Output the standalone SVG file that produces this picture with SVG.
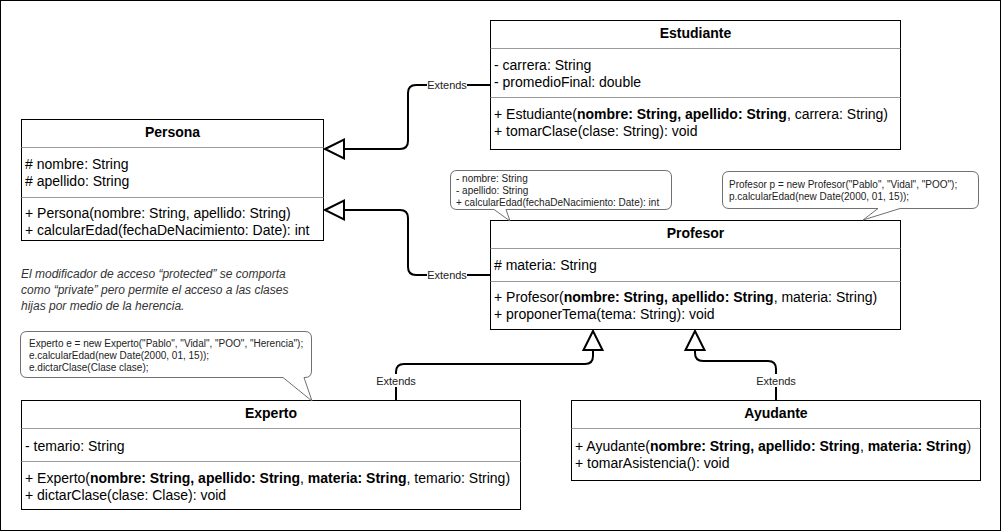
<svg xmlns="http://www.w3.org/2000/svg" width="1001" height="531" viewBox="0 0 1001 531">
<style>
.box{fill:#fff;stroke:#000;stroke-width:1}
.sep{stroke:#9a9a9a;stroke-width:1;fill:none}
.t{font-family:"Liberation Sans",Arial,sans-serif;font-size:14px;fill:#000}
.h{font-weight:bold;text-anchor:middle}
.b{font-weight:bold}
.bub{fill:#fff;stroke:#707070;stroke-width:1}
.bt{font-family:"Liberation Sans",Arial,sans-serif;font-size:10px;fill:#222}
.edge{fill:none;stroke:#000;stroke-width:2}
.arr{fill:#fff;stroke:#000;stroke-width:2;stroke-linejoin:miter}
.lbl{font-family:"Liberation Sans",Arial,sans-serif;font-size:11px;fill:#222;text-anchor:middle}
.lblbg{fill:#fff}
.note{font-family:"Liberation Sans",Arial,sans-serif;font-size:12px;font-style:italic;fill:#333}
</style>
<rect x="0.5" y="0.5" width="1000" height="530" fill="#fff" stroke="#000"/>

<g id="connectors">
  <path class="edge" d="M491,85 H416 Q408,85 408,93 V141 Q408,149 400,149 H344"/>
  <path class="arr" d="M325,149 L344,139.5 L344,158.5 Z"/>
  <rect class="lblbg" x="427" y="78" width="40" height="13"/>
  <text class="lbl" x="447" y="89">Extends</text>

  <path class="edge" d="M491,275 H416 Q408,275 408,267 V218 Q408,210 400,210 H344"/>
  <path class="arr" d="M325,210 L344,200.5 L344,219.5 Z"/>
  <rect class="lblbg" x="427" y="268" width="40" height="13"/>
  <text class="lbl" x="447" y="279">Extends</text>

  <path class="edge" d="M396,400 V372 Q396,364 404,364 H585 Q593,364 593,356 V350"/>
  <path class="arr" d="M593,331 L583.5,350 L602.5,350 Z"/>
  <rect class="lblbg" x="376" y="374" width="40" height="13"/>
  <text class="lbl" x="396" y="385">Extends</text>

  <path class="edge" d="M776,401 V369 Q776,361 768,361 H703 Q695,361 695,353 V350"/>
  <path class="arr" d="M695,331 L685.5,350 L704.5,350 Z"/>
  <rect class="lblbg" x="756" y="374" width="40" height="13"/>
  <text class="lbl" x="776" y="385">Extends</text>
</g>

<g id="Persona">
  <rect class="box" x="21.5" y="119.5" width="302" height="121"/>
  <line class="sep" x1="21.5" y1="147.5" x2="323.5" y2="147.5"/>
  <line class="sep" x1="21.5" y1="197.5" x2="323.5" y2="197.5"/>
  <text class="t h" x="172.5" y="137">Persona</text>
  <text class="t" x="25" y="169">#  nombre: String</text>
  <text class="t" x="25" y="186">#  apellido: String</text>
  <text class="t" x="25" y="217.5">+ Persona(nombre: String, apellido: String)</text>
  <text class="t" x="25" y="234.5">+ calcularEdad(fechaDeNacimiento: Date): int</text>
</g>

<g id="Estudiante">
  <rect class="box" x="490.5" y="20.5" width="410" height="129"/>
  <line class="sep" x1="490.5" y1="48.5" x2="900.5" y2="48.5"/>
  <line class="sep" x1="490.5" y1="97.5" x2="900.5" y2="97.5"/>
  <text class="t h" x="695.5" y="38">Estudiante</text>
  <text class="t" x="494" y="70">- carrera: String</text>
  <text class="t" x="494" y="87">- promedioFinal: double</text>
  <text class="t" x="494" y="118.5">+ Estudiante(<tspan class="b">nombre: String, apellido: String</tspan>, carrera: String)</text>
  <text class="t" x="494" y="135.5">+ tomarClase(clase: String): void</text>
</g>

<g id="Profesor">
  <rect class="box" x="490.5" y="220.5" width="410" height="109"/>
  <line class="sep" x1="490.5" y1="248.5" x2="900.5" y2="248.5"/>
  <line class="sep" x1="490.5" y1="281.5" x2="900.5" y2="281.5"/>
  <text class="t h" x="695.5" y="238">Profesor</text>
  <text class="t" x="494" y="270">#  materia: String</text>
  <text class="t" x="494" y="302">+ Profesor(<tspan class="b">nombre: String, apellido: String</tspan>, materia: String)</text>
  <text class="t" x="494" y="319">+ proponerTema(tema: String): void</text>
</g>

<g id="Experto">
  <rect class="box" x="21.5" y="400.5" width="499" height="109"/>
  <line class="sep" x1="21.5" y1="428.5" x2="520.5" y2="428.5"/>
  <line class="sep" x1="21.5" y1="461.5" x2="520.5" y2="461.5"/>
  <text class="t h" x="271" y="418">Experto</text>
  <text class="t" x="25" y="450.5">- temario: String</text>
  <text class="t" x="25" y="482.5">+ Experto(<tspan class="b">nombre: String, apellido: String</tspan>, <tspan class="b">materia: String</tspan>, temario: String)</text>
  <text class="t" x="25" y="499.5">+ dictarClase(clase: Clase): void</text>
</g>

<g id="Ayudante">
  <rect class="box" x="571.5" y="400.5" width="409" height="80"/>
  <line class="sep" x1="571.5" y1="428.5" x2="980.5" y2="428.5"/>
  <text class="t h" x="776" y="418">Ayudante</text>
  <text class="t" x="575" y="450.5">+ Ayudante(<tspan class="b">nombre: String, apellido: String</tspan>, <tspan class="b">materia: String</tspan>)</text>
  <text class="t" x="575" y="467.5">+ tomarAsistencia(): void</text>
</g>

<g id="note-protected">
  <text class="note" x="21" y="278">El modificador de acceso “protected” se comporta</text>
  <text class="note" x="21" y="294">como “private” pero permite el acceso a las clases</text>
  <text class="note" x="21" y="309.5">hijas por medio de la herencia.</text>
</g>

<g id="callout-persona">
  <path class="bub" d="M457,170.5 H665 Q671.5,170.5 671.5,177 V203 Q671.5,209.5 665,209.5 H506 L510,221 L494,209.5 H457 Q450.5,209.5 450.5,203 V177 Q450.5,170.5 457,170.5 Z"/>
  <text class="bt" x="456" y="182">- nombre: String</text>
  <text class="bt" x="456" y="194">- apellido: String</text>
  <text class="bt" x="456" y="205.5">+ calcularEdad(fechaDeNacimiento: Date): int</text>
</g>

<g id="callout-profesor">
  <path class="bub" d="M729,171.5 H972 Q978.5,171.5 978.5,178 V202 Q978.5,208.5 972,208.5 H900 L863,220 L878,208.5 H729 Q722.5,208.5 722.5,202 V178 Q722.5,171.5 729,171.5 Z"/>
  <text class="bt" x="729" y="188">Profesor p = new Profesor("Pablo", "Vidal", "POO");</text>
  <text class="bt" x="729" y="200">p.calcularEdad(new Date(2000, 01, 15));</text>
</g>

<g id="callout-experto">
  <path class="bub" d="M27,331.5 H305 Q311.5,331.5 311.5,338 V371 Q311.5,377.5 305,377.5 H304 L312,401 L283,377.5 H27 Q20.5,377.5 20.5,371 V338 Q20.5,331.5 27,331.5 Z"/>
  <text class="bt" x="29" y="347">Experto e = new Experto("Pablo", "Vidal", "POO", "Herencia");</text>
  <text class="bt" x="29" y="359">e.calcularEdad(new Date(2000, 01, 15));</text>
  <text class="bt" x="29" y="371">e.dictarClase(Clase clase);</text>
</g>
</svg>
